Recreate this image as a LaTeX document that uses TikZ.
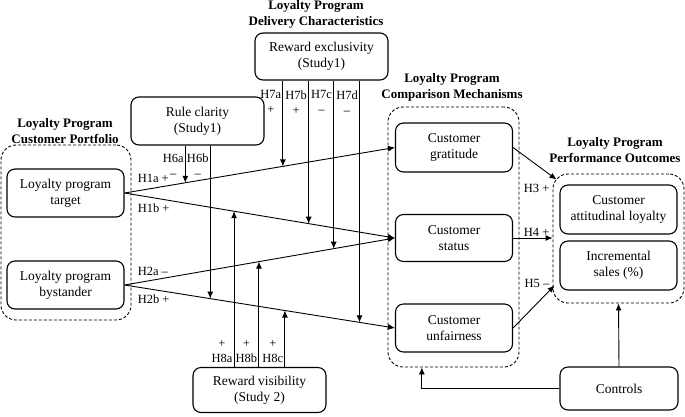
\documentclass[tikz,border=0pt]{standalone}
\usepackage{fontspec}
\setmainfont{Liberation Serif}
\usetikzlibrary{arrows.meta, positioning, calc}

\begin{document}
\begin{tikzpicture}[x=1pt,y=-1pt,>={Latex[length=7pt,width=6pt]},
			main node/.style={draw,rounded corners=8pt,line width=1.1pt,align=center,inner sep=2pt,
				minimum width=117pt,font=\fontsize{13.5}{16}\selectfont},
			group node/.style={draw,dash pattern=on 3pt off 2pt,rounded corners=15pt,line width=0.9pt,inner sep=0pt},
			title node/.style={align=center,font=\fontsize{13}{16}\selectfont\bfseries},
			hyp/.style={align=center,inner sep=1pt,font=\fontsize{12.5}{15}\selectfont},
			link/.style={->,line width=0.9pt}]
			
			\useasboundingbox (0,0) rectangle (685,416);
			
			% dashed groups
			\node[group node,minimum width=130pt,minimum height=175pt] (portfolio) at (66,232.5) {};
			\node[group node,minimum width=131pt,minimum height=260pt] (compare) at (453.5,237) {};
			\node[group node,minimum width=131pt,minimum height=129pt] (perf) at (618.5,238.5) {};
			
			\node[title node] (t1) at (65,131) {Loyalty Program\\Customer Portfolio};
			\node[title node] (t2) at (316,14) {Loyalty Program\\Delivery Characteristics};
			\node[title node] (t3) at (452,87) {Loyalty Program\\Comparison Mechanisms};
			\node[title node] (t4) at (615,150) {Loyalty Program\\Performance Outcomes};
			
			% boxes
			\node[main node,minimum height=48pt] (target) at (65.5,193) {Loyalty program\\target};
			\node[main node,minimum height=48pt] (bystander) at (65.5,285) {Loyalty program\\bystander};
			\node[main node,minimum width=133pt,minimum height=48pt] (clarity) at (197.5,121) {Rule clarity\\(Study1)};
			\node[main node,minimum width=133pt,minimum height=47pt] (exclusivity) at (321.5,56.5) {Reward exclusivity\\(Study1)};
			\node[main node,minimum width=133pt,minimum height=45pt] (visibility) at (259.5,390) {Reward visibility\\(Study 2)};
			\node[main node,minimum height=49pt] (gratitude) at (454,147.5) {Customer\\gratitude};
			\node[main node,minimum height=47pt] (status) at (454,238) {Customer\\status};
			\node[main node,minimum height=48pt] (unfairness) at (454,328) {Customer\\unfairness};
			\node[main node,minimum height=49pt] (loyalty) at (618.5,209.5) {Customer\\attitudinal loyalty};
			\node[main node,minimum height=49pt] (sales) at (618.5,265.5) {Incremental\\sales (\%)};
			\node[main node,minimum width=118pt,minimum height=43pt] (controls) at (619,388.5) {Controls};
			
			% main paths
			\draw[link] (target.east) -- coordinate[pos=0.2247] (h6a) coordinate[pos=0.5856] (h7a) (gratitude.west);
			\draw[link] (target.east) -- coordinate[pos=0.405] (h8a) coordinate[pos=0.681] (h7b) (status.west);
			\draw[link] (bystander.east) -- coordinate[pos=0.497] (h8b) coordinate[pos=0.7735] (h7c) (status.west);
			\draw[link] (bystander.east) -- coordinate[pos=0.3168] (h6b) coordinate[pos=0.593] (h8c) coordinate[pos=0.869] (h7d) (unfairness.west);
			
			\node[hyp,anchor=west] at ($(target.east)+(12,-15)$) {H1a +};
			\node[hyp,anchor=west] at ($(target.east)+(12,15)$) {H1b +};
			\node[hyp,anchor=west] at ($(bystander.east)+(12,-14)$) {H2a --};
			\node[hyp,anchor=west] at ($(bystander.east)+(12,14)$) {H2b +};
			
			% moderators
			\foreach \h in {h6a,h6b}
				\draw[link] (clarity.south -| \h) -- (\h);
			\foreach \h in {h7a,h7b,h7c,h7d}
				\draw[link] (exclusivity.south -| \h) -- (\h);
			\foreach \h in {h8a,h8b,h8c}
				\draw[link] (visibility.north -| \h) -- (\h);
			
			\node[hyp,anchor=north east] at ($(h6a |- clarity.south)+(-0.5,7)$) {H6a\\--};
			\node[hyp,anchor=north east] at ($(h6b |- clarity.south)+(-0.5,7)$) {H6b\\--};
			\node[hyp,anchor=north east] at ($(h7a |- exclusivity.south)+(-0.5,9)$) {H7a\\+};
			\node[hyp,anchor=north east] at ($(h7b |- exclusivity.south)+(-0.5,9)$) {H7b\\+};
			\node[hyp,anchor=north east] at ($(h7c |- exclusivity.south)+(-0.5,9)$) {H7c\\--};
			\node[hyp,anchor=north east] at ($(h7d |- exclusivity.south)+(-0.5,9)$) {H7d\\--};
			\node[hyp,anchor=south east] at ($(h8a |- visibility.north)+(-0.5,-3)$) {+\\H8a};
			\node[hyp,anchor=south east] at ($(h8b |- visibility.north)+(-0.5,-3)$) {+\\H8b};
			\node[hyp,anchor=south east] at ($(h8c |- visibility.north)+(-0.5,-3)$) {+\\H8c};
			
			% outcomes
			\draw[link] (gratitude.east) -- ($(perf.north west)+(4,6)$);
			\draw[link] (status.east) -- (status.east -| perf.west);
			\draw[link] (unfairness.east) -- ($(perf.south west)+(2,-18)$);
			\node[hyp,anchor=east] at ($(perf.west)+(-2,-50)$) {H3 +};
			\node[hyp,anchor=east] at ($(perf.west)+(-2,-6)$) {H4 +};
			\node[hyp,anchor=east] at ($(perf.west)+(-2,45)$) {H5 --};
			
			% controls
			\coordinate (cmpfoot) at ($(compare.south west)!0.26!(compare.south east)$);
			\draw[link] (controls.north) -- (perf.south);
			\draw[link] (controls.west) -| (cmpfoot);
		
		\end{tikzpicture}
\end{document}
